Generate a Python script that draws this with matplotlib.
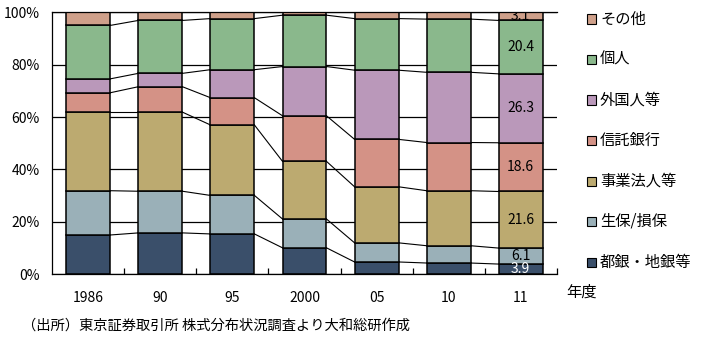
import numpy as np
import matplotlib.pyplot as plt
from matplotlib.patches import Rectangle

plt.rcParams['font.family'] = ['Noto Sans CJK JP', 'DejaVu Sans']

years = ["1986", "90", "95", "2000", "05", "10", "11"]

# shares (%) from bottom to top
toshigin = [15.0, 15.8, 15.4, 10.1, 4.7, 4.3, 3.9]     # 都銀・地銀等
seiho = [16.9, 15.9, 14.7, 11.0, 7.3, 6.6, 6.1]        # 生保/損保
jigyo = [30.0, 30.2, 26.9, 22.0, 21.4, 21.0, 21.6]     # 事業法人等
shintaku = [7.4, 9.7, 10.4, 17.4, 18.1, 18.4, 18.6]    # 信託銀行
gaikoku = [5.3, 5.1, 10.7, 18.8, 26.4, 26.8, 26.3]     # 外国人等
kojin = [20.4, 20.2, 19.5, 19.6, 19.7, 20.3, 20.4]     # 個人
sonota = [5.0, 3.1, 2.4, 1.1, 2.4, 2.6, 3.1]           # その他

names = ["都銀・地銀等", "生保/損保", "事業法人等", "信託銀行", "外国人等", "個人", "その他"]
series = [toshigin, seiho, jigyo, shintaku, gaikoku, kojin, sonota]
colors = ["#3a4f6a", "#9ab0b8", "#bcaa70", "#d49286", "#ba98ba", "#8ab88c", "#cfa08a"]

fig = plt.figure(figsize=(7.03, 3.39), dpi=100)
ax = fig.add_axes([0.0744, 0.1909, 0.7175, 0.7728])

x = np.arange(len(years))
w = 0.61
bottom = np.zeros(len(years))
for vals, c in zip(series, colors):
    ax.bar(x, vals, w, bottom=bottom, color=c, edgecolor="black", linewidth=1.1, zorder=2)
    bottom = bottom + np.array(vals)
    if bottom[0] < 99.9:
        for i in range(len(years) - 1):
            ax.plot([x[i] + w / 2, x[i + 1] - w / 2], [bottom[i], bottom[i + 1]],
                    color="black", lw=0.8, zorder=1)

# value labels on the last bar
cum = 0
last = len(years) - 1
for vals, c in zip(series, colors):
    v = vals[last]
    tc = "white" if c == "#3a4f6a" else "black"
    ax.text(x[last], cum + v / 2, f"{v:.1f}", ha="center", va="center",
            fontsize=10, color=tc, zorder=3, clip_on=True)
    cum += v

ax.set_xlim(-0.5, len(years) - 0.5)
ax.set_ylim(0, 100)
ax.set_yticks(np.arange(0, 101, 20))
ax.set_yticklabels([f"{t}%" for t in range(0, 101, 20)], fontsize=10)
ax.yaxis.grid(True, color="black", lw=0.9, zorder=0)
ax.set_axisbelow(True)
ax.tick_params(axis="y", length=0, pad=9)

ax.set_xticks(x)
ax.set_xticklabels(years, fontsize=10)
ax.tick_params(axis="x", which="major", length=0, pad=12)
ax.set_xticks(x[:] + 0.5, minor=True)
ax.tick_params(axis="x", which="minor", direction="in", length=4, width=0.9)

for s in ["right"]:
    ax.spines[s].set_visible(False)
for s in ["left", "bottom", "top"]:
    ax.spines[s].set_linewidth(0.9)

fig.text(566 / 703, 1 - 292 / 339, "年度", fontsize=11, va="center", ha="left")

# legend, top entry first
for k, (n, c) in enumerate(zip(names[::-1], colors[::-1])):
    yc = 1 - (19 + k * 40.5) / 339
    fig.patches.append(Rectangle((587 / 703, yc - 4.5 / 339), 9 / 703, 9 / 339,
                                 facecolor=c, edgecolor="black", lw=0.8,
                                 transform=fig.transFigure, figure=fig))
    fig.text(600 / 703, yc, n, fontsize=11, va="center", ha="left")

fig.text(22 / 703, 1 - 326 / 339, "（出所）東京証券取引所 株式分布状況調査より大和総研作成",
         fontsize=10.3, va="center", ha="left")

fig.savefig("out.png", dpi=100)
